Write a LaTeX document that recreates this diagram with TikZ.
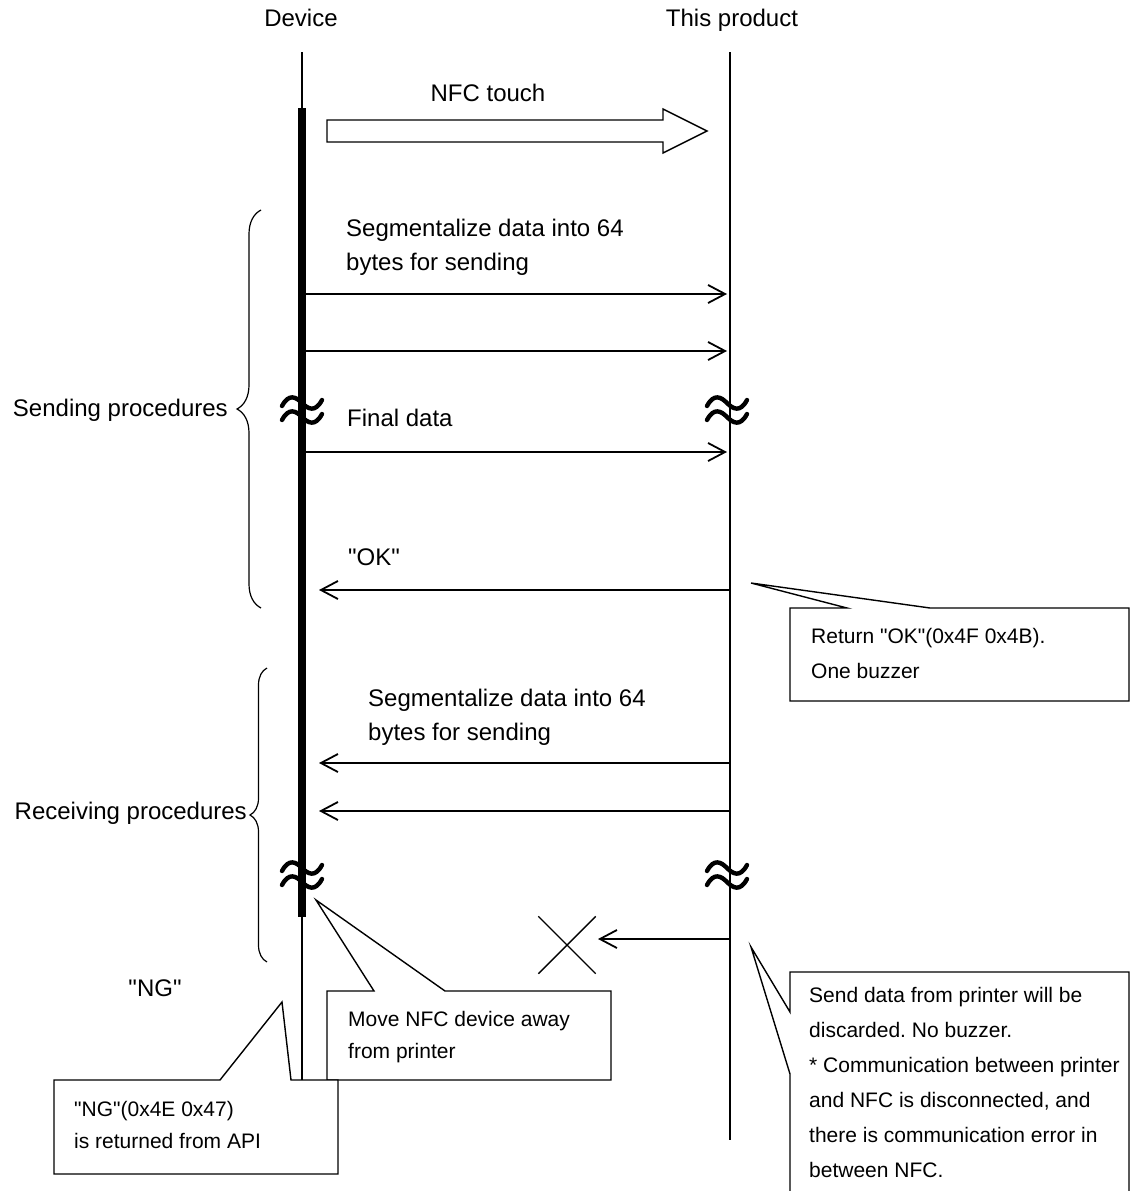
\documentclass[tikz,border=0pt]{standalone}
\usepackage{fontspec}
\setmainfont{Liberation Sans}[Ligatures=TeXOff]
\usetikzlibrary{arrows.meta,decorations.pathreplacing,shapes.misc}
\frenchspacing

\tikzset{
  brk/.pic={
    \foreach \dy in {-7,7}
      \draw[line width=4.4pt, line cap=round]
        (-20,\dy+3) .. controls (-13,\dy-10) and (-6,\dy-6) .. (0,\dy)
                    .. controls (6,\dy+6) and (13,\dy+10) .. (20,\dy-3);
  }
}

\begin{document}
\begin{tikzpicture}[
  x=1pt, y=-1pt,
  lbl/.style={font=\fontsize{24}{34}\selectfont, inner sep=0pt,
              text height=17.2pt, text depth=0pt},
  para/.style={font=\fontsize{24}{34}\selectfont, inner sep=0pt,
               align=left, anchor=north west},
  note/.style={font=\fontsize{21}{35}\selectfont, inner sep=0pt,
               align=left, anchor=north west},
  life/.style={line width=2.4pt},
  act/.style={line width=8pt},
  msg/.style={line width=1.8pt, -{Straight Barb[length=17pt,width=18pt]}},
  blk/.style={line width=1.4pt, fill=white},
  callout/.style={line width=1.4pt, fill=white},
  brc/.style={line width=1.2pt, decorate, decoration={brace, amplitude=#1}},
  lost/.style={draw, cross out, line width=1.4pt, minimum size=56pt, inner sep=0pt}
]
\useasboundingbox (0,0) rectangle (1130,1191);
\clip (0,0) rectangle (1130,1191);

%--- lifelines ---------------------------------------------------------------
\node[lbl] (dev) at (301,18) {Device};
\node[lbl] (prd) at (732,18) {This product};
\coordinate (devtop) at (302,52);
\coordinate (devend) at (302,1080);
\coordinate (acttop) at (302,108);
\coordinate (actend) at (302,917);
\coordinate (prdtop) at (730,52);
\coordinate (prdend) at (730,1140);
\draw[life] (devtop) -- (devend);
\draw[act] (acttop) -- (actend);
\draw[life] (prdtop) -- (prdend);
\foreach \xx in {302,727} {
  \pic at (\xx,410) {brk};
  \pic at (\xx,875) {brk};
}

%--- NFC touch ---------------------------------------------------------------
\node[lbl] (touch) at (488,93) {NFC touch};
\draw[blk] (327,120) -- (663,120) -- (663,109) -- (707,131) -- (663,153)
  -- (663,142) -- (327,142) -- cycle;

%--- sending -----------------------------------------------------------------
\node[para] (sendtxt) at (346,219.4)
  {Segmentalize data into 64\\bytes for sending};
\foreach \nm/\yy in {s1/294, s2/351, s3/452} {
  \coordinate (\nm d) at (306,\yy);
  \coordinate (\nm p) at (727,\yy);
  \draw[msg] (\nm d) -- (\nm p);
}
\node[lbl, anchor=west] (final) at (347,418) {Final data};
\node[lbl, anchor=west] (ok) at (348,557) {"OK"};
\coordinate (okp) at (730,590);
\coordinate (okd) at (319,590);
\draw[msg] (okp) -- (okd);
\draw[brc=24pt] (261,608) -- (261,210);
\node[lbl, anchor=east] (sendlbl) at (228,408) {Sending procedures};

%--- receiving ---------------------------------------------------------------
\node[para] (recvtxt) at (368,688.4)
  {Segmentalize data into 64\\bytes for sending};
\foreach \nm/\yy in {r1/763, r2/811} {
  \coordinate (\nm p) at (730,\yy);
  \coordinate (\nm d) at (319,\yy);
  \draw[msg] (\nm p) -- (\nm d);
}
\node[lost] (drop) at (567,945) {};
\coordinate (r3p) at (730,939);
\coordinate (r3d) at (598,939);
\draw[msg] (r3p) -- (r3d);
\draw[brc=17pt] (267,962) -- (267,668);
\node[lbl, anchor=east] (recvlbl) at (247,811) {Receiving procedures};
\node[lbl] (ng) at (155,988) {"NG"};

%--- callouts ----------------------------------------------------------------
\draw[callout] (790,608) -- (847,608) -- (751,583) -- (930,608) -- (1129,608)
  -- (1129,701) -- (790,701) -- cycle;
\node[note] (oktxt) at (811,628.4) {Return "OK"(0x4F 0x4B).\\One buzzer};

\draw[callout] (327,991) -- (374,991) -- (316,900) -- (445,991) -- (611,991)
  -- (611,1080) -- (327,1080) -- cycle;
\node[note, font=\fontsize{21}{32}\selectfont] (movetxt) at (348,1011.4)
  {Move NFC device away\\from printer};

\draw[callout] (54,1080) -- (220,1080) -- (282,1002) -- (291,1080) -- (338,1080)
  -- (338,1174) -- (54,1174) -- cycle;
\node[note, font=\fontsize{21}{32}\selectfont] (ngtxt) at (74,1101.4)
  {"NG"(0x4E 0x47)\\is returned from API};

\draw[callout] (790,972) -- (1129,972) -- (1129,1200) -- (790,1200)
  -- (790,1074) -- (751,947) -- (790,1012) -- cycle;
\node[note] (errtxt) at (809,987.4)
  {Send data from printer will be\\discarded. No buzzer.\\%
   * Communication between printer\\and NFC is disconnected, and\\%
   there is communication error in\\between NFC.};
\end{tikzpicture}
\end{document}
